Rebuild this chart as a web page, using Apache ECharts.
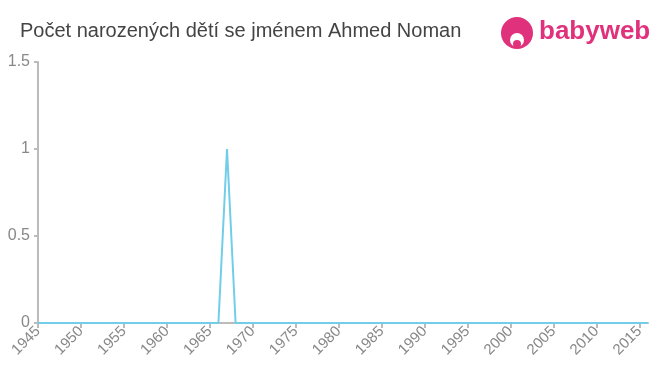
<!DOCTYPE html>
<html><head><meta charset="utf-8">
<script src="https://cdn.jsdelivr.net/npm/echarts@6/dist/echarts.min.js"></script>
<style>html,body{margin:0;padding:0;background:#fff}#c{width:660px;height:375px}</style>
</head><body><div id="c"></div>
<script>
const years = [];
for (let y = 1945; y <= 2016; y++) years.push(y);
const counts = years.map(y => (y === 1967 ? 1 : 0));
const yTicks = [0, 0.5, 1, 1.5];
const titleText = 'Počet narozených dětí se jménem Ahmed Noman';

const chart = echarts.init(document.getElementById('c'));
chart.setOption({
  animation: false,
  title: { text: titleText, left: 15, top: 16, textStyle: { fontFamily: 'Liberation Sans, Arial', fontSize: 20, fontWeight: 'normal', color: '#444' } },
  grid: { left: 38, right: 12, top: 62, bottom: 52 },
  xAxis: {
    type: 'value', min: 1945, max: 2016, interval: 5,
    axisLine: { lineStyle: { color: '#bbb', width: 2 } },
    axisTick: { lineStyle: { color: '#bbb', width: 2 }, length: 5 },
    splitLine: { show: false },
    axisLabel: { rotate: 45, color: '#888', fontSize: 15, fontFamily: 'Liberation Sans, Arial', margin: 6, showMaxLabel: false,
      formatter: v => (v % 5 === 0 ? String(v) : '') }
  },
  yAxis: {
    type: 'value', min: 0, max: 1.5, interval: 0.5,
    axisLine: { show: true, lineStyle: { color: '#bbb', width: 2 } },
    axisTick: { show: true, lineStyle: { color: '#bbb', width: 2 }, length: 4 },
    splitLine: { show: false },
    axisLabel: { color: '#888', fontSize: 16, fontFamily: 'Liberation Sans, Arial', margin: 8 }
  },
  series: [{
    type: 'line', data: years.map((y, i) => [y, counts[i]]), showSymbol: false,
    lineStyle: { color: '#72cde9', width: 2 }
  }],
  graphic: [
    { type: 'circle', shape: { cx: 517, cy: 33, r: 16 }, style: { fill: '#e0327c' } },
    { type: 'circle', shape: { cx: 517, cy: 40, r: 7 }, style: { fill: '#fff' } },
    { type: 'circle', shape: { cx: 517, cy: 44, r: 4 }, style: { fill: '#e0327c' } },
    { type: 'text', left: 539, top: 19, style: { text: 'babyweb', fill: '#e0327c', font: 'bold 26px "Liberation Sans", Arial' } }
  ]
});
</script></body></html>
